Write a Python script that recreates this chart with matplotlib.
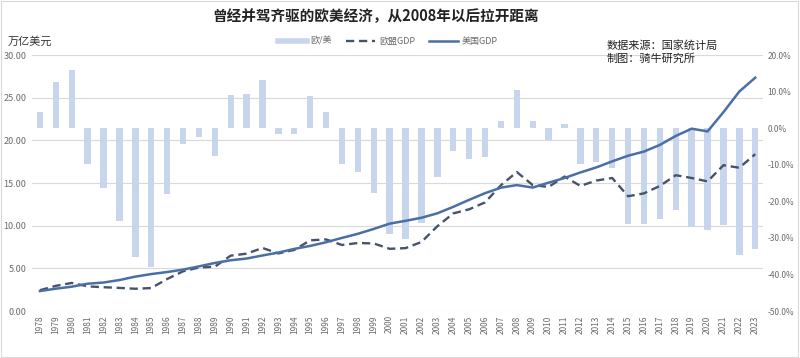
import matplotlib.pyplot as plt
import matplotlib.patches as mpatches
from matplotlib.lines import Line2D
from matplotlib.ticker import FuncFormatter

plt.rcParams['font.family'] = ['Noto Sans CJK SC', 'DejaVu Sans']

years = list(range(1978, 2024))

# 欧/美 (EU/US - 1, percent)
ratio = [4.4, 12.7, 16.0, -9.7, -16.3, -25.3, -35.2, -37.9, -17.9, -4.2,
         -2.5, -7.7, 9.0, 9.3, 13.3, -1.5, -1.7, 8.7, 4.5, -9.7,
         -11.9, -17.7, -28.8, -30.2, -25.9, -13.3, -6.3, -8.5, -7.8, 1.9,
         10.4, 2.0, -3.3, 1.1, -9.7, -9.2, -11.0, -26.1, -26.2, -24.7,
         -22.4, -27.0, -27.9, -26.5, -34.7, -32.9]

# 欧盟GDP, 万亿美元
eu_gdp = [2.45, 2.96, 3.3, 2.9, 2.8, 2.72, 2.62, 2.7, 3.76, 4.66,
          5.11, 5.2, 6.5, 6.73, 7.4, 6.76, 7.17, 8.3, 8.4, 7.75,
          7.98, 7.93, 7.3, 7.38, 8.1, 9.94, 11.45, 11.93, 12.74, 14.75,
          16.3, 14.77, 14.55, 15.77, 14.67, 15.3, 15.6, 13.46, 13.8, 14.67,
          15.93, 15.6, 15.2, 17.1, 16.8, 18.4]

# 美国GDP, 万亿美元
us_gdp = [2.35, 2.63, 2.86, 3.21, 3.35, 3.64, 4.04, 4.34, 4.58, 4.86,
          5.24, 5.64, 5.96, 6.16, 6.52, 6.86, 7.29, 7.64, 8.07, 8.58,
          9.06, 9.63, 10.25, 10.58, 10.94, 11.46, 12.22, 13.04, 13.82, 14.47,
          14.77, 14.48, 15.05, 15.60, 16.25, 16.84, 17.55, 18.21, 18.70, 19.48,
          20.53, 21.38, 21.06, 23.32, 25.74, 27.36]

bar_color = "#c7d6ec"
eu_color = "#44546a"
us_color = "#4a6fa5"
tick_color = "#6b6b6b"

fig = plt.figure(figsize=(8, 3.58), dpi=100)
ax = fig.add_axes([0.04, 0.131, 0.914, 0.715])
ax2 = ax.twinx()

x = list(range(len(years)))

# bars on the secondary (right) axis, lines on the primary one
ax2.bar(x, ratio, width=0.4, color=bar_color, zorder=1)
ax2.set_ylim(-50, 20)
ax2.set_yticks(range(-50, 21, 10))
ax2.yaxis.set_major_formatter(FuncFormatter(lambda v, p: "%.1f%%" % v))

ax.set_zorder(ax2.get_zorder() + 1)
ax.patch.set_visible(False)
ax.plot(x, eu_gdp, color=eu_color, lw=1.7, ls=(0, (3.5, 2)), zorder=3)
ax.plot(x, us_gdp, color=us_color, lw=1.8, zorder=4)
ax.set_ylim(0, 30)
ax.set_yticks(range(0, 31, 5))
ax.yaxis.set_major_formatter(FuncFormatter(lambda v, p: "%.2f" % v))

ax.set_xlim(-0.5, len(years) - 0.5)
ax.set_xticks(x)
ax.set_xticklabels([str(y) for y in years], rotation=90, fontsize=6)

# gridlines from the left axis, drawn behind the bars
for v in range(0, 31, 5):
    ax2.axhline(-50 + v * 70 / 30, color="#d9d9d9", lw=0.8, zorder=0)

for a in (ax, ax2):
    for s in a.spines.values():
        s.set_visible(False)
    a.tick_params(length=0, colors=tick_color, labelsize=6.5)
ax.tick_params(axis="x", labelsize=6, pad=3)
ax.tick_params(axis="y", pad=4)
ax2.tick_params(axis="y", pad=3, labelsize=6)

fig.text(0.47, 0.955, "曾经并驾齐驱的欧美经济，从2008年以后拉开距离",
         ha="center", va="center", fontsize=10.5, fontweight="bold",
         color="#222222")
fig.text(0.01, 0.885, "万亿美元", ha="left", va="center", fontsize=8,
         color="#333333")
fig.text(0.758, 0.855, "数据来源：国家统计局\n制图：骑牛研究所", ha="left",
         va="center", fontsize=8, color="#222222", linespacing=1.35)

handles = [
    Line2D([0], [0], color=bar_color, lw=4),
    Line2D([0], [0], color=eu_color, lw=1.7, ls=(0, (3.5, 2))),
    Line2D([0], [0], color=us_color, lw=1.8),
]
fig.legend(handles, ["欧/美", "欧盟GDP", "美国GDP"], loc="center",
           bbox_to_anchor=(0.485, 0.885), ncol=3, frameon=False, fontsize=6.5,
           handlelength=3.2, columnspacing=1.6, handletextpad=0.4,
           labelcolor="#6b6b6b")

fig.patches.append(mpatches.Rectangle((0.001, 0.002), 0.997, 0.995,
                                      transform=fig.transFigure, fill=False,
                                      edgecolor="#d9d9d9", lw=0.8))

fig.savefig("out.png", dpi=100)
